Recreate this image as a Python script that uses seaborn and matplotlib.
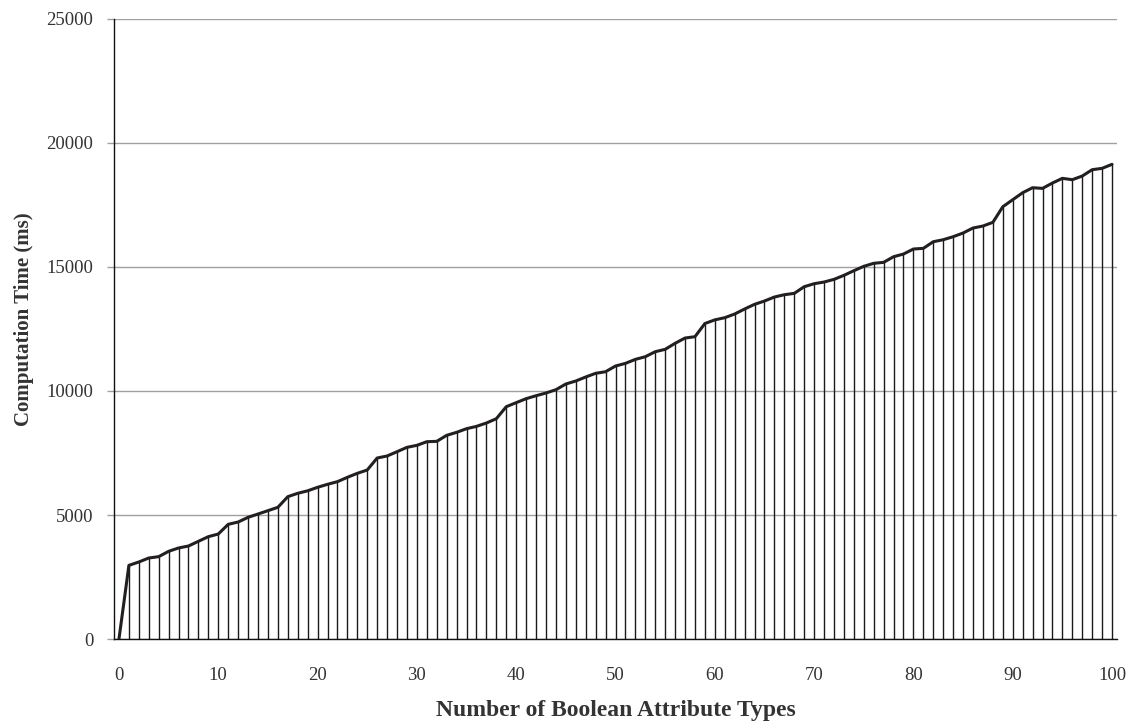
import numpy as np
import pandas as pd
import matplotlib
matplotlib.use("Agg")
import matplotlib.pyplot as plt
import seaborn as sns

attribute_types = list(range(0, 101))
computation_ms = [
    0, 2970, 3105, 3266, 3320, 3535, 3670, 3750, 3939, 4126,
    4233, 4624, 4717, 4906, 5040, 5174, 5310, 5738, 5875, 5975,
    6117, 6237, 6344, 6519, 6680, 6814, 7298, 7379, 7552, 7728,
    7809, 7955, 7970, 8212, 8333, 8480, 8574, 8709, 8883, 9367,
    9530, 9690, 9810, 9919, 10052, 10282, 10403, 10564, 10713, 10777,
    11007, 11114, 11275, 11382, 11584, 11680, 11922, 12136, 12189, 12720,
    12868, 12955, 13104, 13306, 13494, 13628, 13789, 13882, 13937, 14205,
    14326, 14394, 14501, 14663, 14850, 15027, 15148, 15188, 15414, 15523,
    15725, 15752, 16019, 16100, 16221, 16370, 16572, 16652, 16800, 17430,
    17713, 17995, 18197, 18170, 18386, 18575, 18520, 18668, 18923, 18978,
    19140,
]
x_ticks = [0, 10, 20, 30, 40, 50, 60, 70, 80, 90, 100]
y_ticks = [0, 5000, 10000, 15000, 20000, 25000]

df = pd.DataFrame({"types": attribute_types, "ms": computation_ms})

sns.set_theme(style="white")
plt.rcParams["font.family"] = ["Liberation Serif", "DejaVu Serif"]

fig = plt.figure(figsize=(11.37, 7.26), dpi=100)
ax = fig.add_axes([114 / 1137, 1 - 639 / 726, (1117 - 114) / 1137, (639 - 19) / 726])

ax.vlines(df["types"], 0, df["ms"], color="#1a1a1a", linewidth=1.0, zorder=2)
sns.lineplot(data=df, x="types", y="ms", ax=ax, color="#231f20", linewidth=2.2, zorder=3)

ax.set_xlim(-0.5, 100.5)
ax.set_ylim(0, 25000)
ax.set_xticks(x_ticks)
ax.set_yticks(y_ticks)
ax.yaxis.grid(True, color="#a0a0a0", linewidth=1.0)
ax.xaxis.grid(False)
ax.set_axisbelow(True)

for s in ["top", "right"]:
    ax.spines[s].set_visible(False)
ax.spines["left"].set_color("#111111")
ax.spines["bottom"].set_color("#111111")
ax.spines["left"].set_linewidth(1.0)
ax.spines["bottom"].set_linewidth(1.0)

ax.tick_params(axis="y", which="major", left=True, length=5, width=1.0, color="#a0a0a0",
               pad=10, labelsize=13.5, labelcolor="#333333")
ax.tick_params(axis="x", which="major", bottom=False, length=0, pad=20,
               labelsize=13.5, labelcolor="#333333")

ax.set_xlabel("Number of Boolean Attribute Types", fontsize=17, fontweight="bold",
              color="#333333", labelpad=12)
ax.set_ylabel("Computation Time (ms)", fontsize=15, fontweight="bold",
              color="#333333")
ax.yaxis.set_label_coords(-0.0797, 0.516)

fig.savefig("out.png", dpi=100)
